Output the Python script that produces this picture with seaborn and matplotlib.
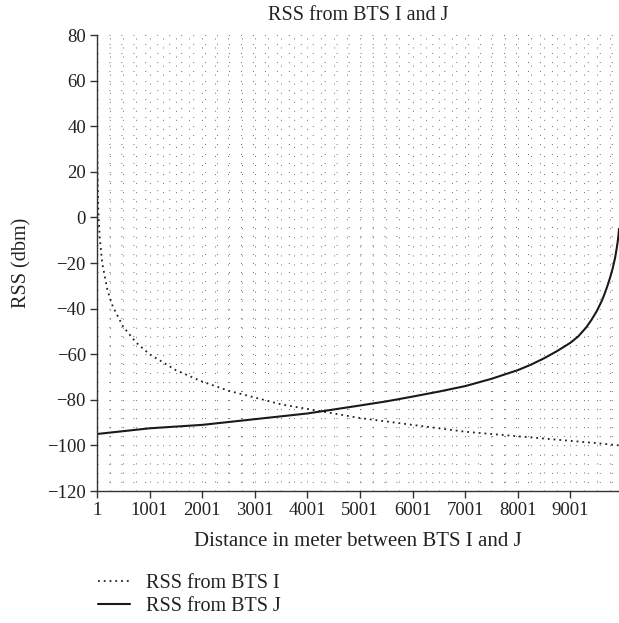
import numpy as np
import pandas as pd
import seaborn as sns
import matplotlib.pyplot as plt
from matplotlib.ticker import MultipleLocator, FixedLocator

# readings from the picture: distance (m) and RSS (dbm)
dist_i = [1, 5, 10, 25, 50, 100, 200, 300, 500, 750, 1000, 1500, 2000, 2500,
          3000, 3500, 4000, 4500, 5000, 5500, 6000, 6500, 7000, 7500, 8000,
          8500, 9000, 9500, 9925]
rss_i = [60, 32, 20, 4, -8, -20, -32, -39, -48, -55, -60, -67, -72, -76,
         -79, -82, -84, -86, -88, -89.5, -91, -92.5, -94, -95, -96,
         -97, -98, -99, -100]

dist_j = [1, 1000, 2000, 3000, 4000, 5000, 5500, 6000, 6500, 7000, 7500, 8000,
          8250, 8500, 8750, 9000, 9150, 9300, 9400, 9500, 9600, 9650, 9700,
          9750, 9800, 9850, 9880, 9900, 9915, 9925]
rss_j = [-95, -92.5, -91, -88.5, -86, -82.5, -80.7, -78.6, -76.4, -74, -70.8, -67,
         -64.6, -61.8, -58.6, -55, -52.2, -48.3, -45, -41.2, -36.5, -33.6, -30.4,
         -26.8, -22.8, -17.8, -13.8, -10.7, -7.8, -5]

xticks = [1, 1001, 2001, 3001, 4001, 5001, 6001, 7001, 8001, 9001]
yticks = list(range(-120, 81, 20))

df_i = pd.DataFrame({"x": dist_i, "y": rss_i})
df_j = pd.DataFrame({"x": dist_j, "y": rss_j})

sns.set_theme(style="white")
plt.rcParams["font.family"] = ["Liberation Serif", "DejaVu Serif"]

fig = plt.figure(figsize=(6.19, 6.23), dpi=100)
ax = fig.add_axes([97 / 619, 1 - 491 / 623, 522 / 619, 456 / 623])

sns.lineplot(data=df_i, x="x", y="y", ax=ax, color="#222222", lw=1.3,
             linestyle=(0, (1, 2.2)), label="RSS from BTS I")
sns.lineplot(data=df_j, x="x", y="y", ax=ax, color="#1a1a1a", lw=1.5,
             label="RSS from BTS J")

ax.set_xlim(1, 9925)
ax.set_ylim(-120, 80)
ax.xaxis.set_major_locator(FixedLocator(xticks))
ax.set_xticklabels([str(t) for t in xticks])
ax.xaxis.set_minor_locator(MultipleLocator(250, offset=1))
ax.yaxis.set_major_locator(FixedLocator(yticks))
ax.yaxis.set_minor_locator(MultipleLocator(4))

# dotted lattice grid
ax.xaxis.grid(True, which="both", color="#6a6a6a", lw=0.7, linestyle=(0, (1, 8.3)))
ax.yaxis.grid(True, which="both", color="#6a6a6a", lw=0.7, linestyle=(0, (1, 11.3)))

for s in ["top", "right"]:
    ax.spines[s].set_visible(False)
for s in ["left", "bottom"]:
    ax.spines[s].set_color("#333333")
    ax.spines[s].set_linewidth(1.0)

ax.tick_params(axis="both", which="major", direction="out", length=5, width=1,
               color="#333333", labelsize=13.5, labelcolor="#222222", pad=3)
ax.tick_params(axis="x", which="minor", length=0)
ax.tick_params(axis="y", which="minor", length=2, width=0.7, color="#333333")
ax.tick_params(axis="both", left=True, bottom=True)

ax.set_title("RSS from BTS I and J", fontsize=14.5, color="#222222", pad=11)
ax.set_xlabel("Distance in meter between BTS I and J", fontsize=15,
              color="#222222", labelpad=9)
ax.set_ylabel("RSS (dbm)", fontsize=14.5, color="#222222", labelpad=11)

handles, labels = ax.get_legend_handles_labels()
ax.get_legend().remove()
fig.legend(handles, labels, loc="upper left", bbox_to_anchor=(80 / 619, 1 - 556 / 623),
           frameon=False, fontsize=14.5, handlelength=1.6, handletextpad=0.8,
           labelspacing=0.2, labelcolor="#222222")

fig.savefig("out.png", dpi=100)
